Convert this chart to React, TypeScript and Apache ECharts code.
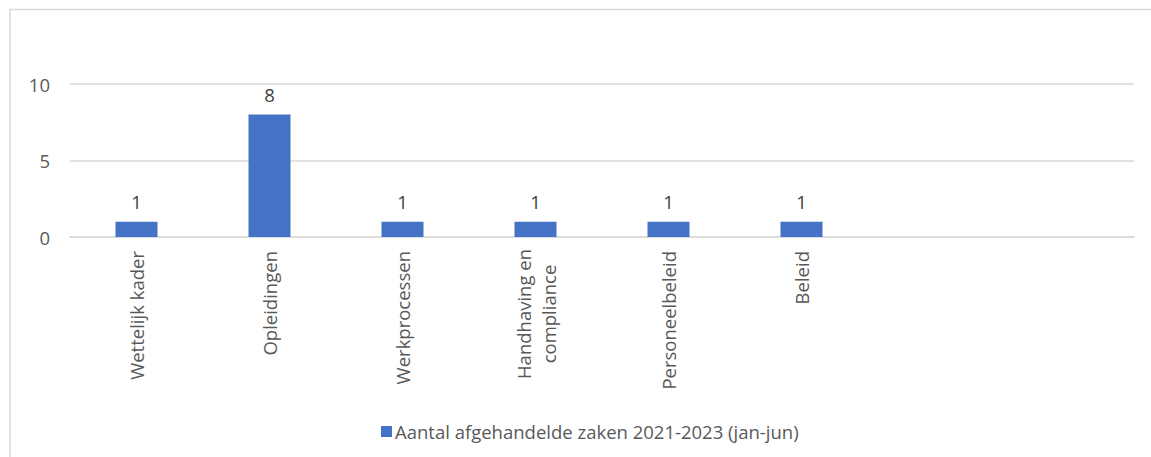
import React, { useEffect, useRef } from "react";
import * as echarts from "echarts";

const categories = [
  "Wettelijk kader",
  "Opleidingen",
  "Werkprocessen",
  "Handhaving en\ncompliance",
  "Personeelbeleid",
  "Beleid",
  "",
  "",
];
const values: (number | null)[] = [1, 8, 1, 1, 1, 1, null, null];
const seriesName = "Aantal afgehandelde zaken 2021-2023 (jan-jun)";
const yTicks = { min: 0, max: 10, interval: 5 };

const FONT = "'Open Sans', 'Noto Sans', sans-serif";
const FS = 18.5;

export default function App() {
  const ref = useRef<HTMLDivElement>(null);
  useEffect(() => {
    if (!ref.current) return;
    const chart = echarts.init(ref.current, undefined, { renderer: "svg" });
    chart.setOption({
      animation: false,
      backgroundColor: "#ffffff",
      textStyle: { fontFamily: FONT },
      graphic: [
        {
          type: "rect",
          shape: { x: 10, y: 9.5, width: 1300, height: 600 },
          style: { fill: "none", stroke: "#d9d9d9", lineWidth: 1.5 },
          silent: true,
        },
      ],
      grid: { left: 70, right: 17, top: 84, bottom: 220, containLabel: false },
      legend: {
        left: 376,
        top: 417,
        itemWidth: 11,
        itemHeight: 11,
        itemGap: 5,
        icon: "rect",
        textStyle: { fontFamily: FONT, fontSize: FS, color: "#595959", padding: [0, 0, 0, -2] },
        data: [seriesName],
      },
      xAxis: {
        type: "category",
        data: categories,
        axisLine: { show: true, lineStyle: { color: "#d9d9d9", width: 1.5 } },
        axisTick: { show: false },
        axisLabel: {
          rotate: 90,
          interval: 0,
          margin: 14,
          fontSize: FS,
          lineHeight: 25,
          color: "#595959",
          fontFamily: FONT,
          formatter: (v: string) =>
            v.indexOf("\n") >= 0
              ? v
                  .split("\n")
                  .map((l) => `{c|${l}}`)
                  .join("\n")
              : v,
          rich: {
            c: {
              width: 126,
              align: "center",
              fontSize: FS,
              lineHeight: 25,
              color: "#595959",
              fontFamily: FONT,
            },
          },
        },
      },
      yAxis: {
        type: "value",
        min: yTicks.min,
        max: yTicks.max,
        interval: yTicks.interval,
        axisLine: { show: false },
        axisTick: { show: false },
        splitLine: { lineStyle: { color: "#d9d9d9", width: 1.5 } },
        axisLabel: { fontSize: FS, color: "#595959", margin: 20, fontFamily: FONT },
      },
      series: [
        {
          name: seriesName,
          type: "bar",
          data: values,
          barWidth: 42,
          itemStyle: { color: "#4472c4" },
          label: {
            show: true,
            position: "top",
            distance: 11,
            fontSize: FS,
            color: "#404040",
            fontFamily: FONT,
          },
        },
      ],
    });
    return () => chart.dispose();
  }, []);
  return (
    <div
      ref={ref}
      style={{ position: "fixed", left: 0, top: 0, width: 1151, height: 457 }}
    />
  );
}
